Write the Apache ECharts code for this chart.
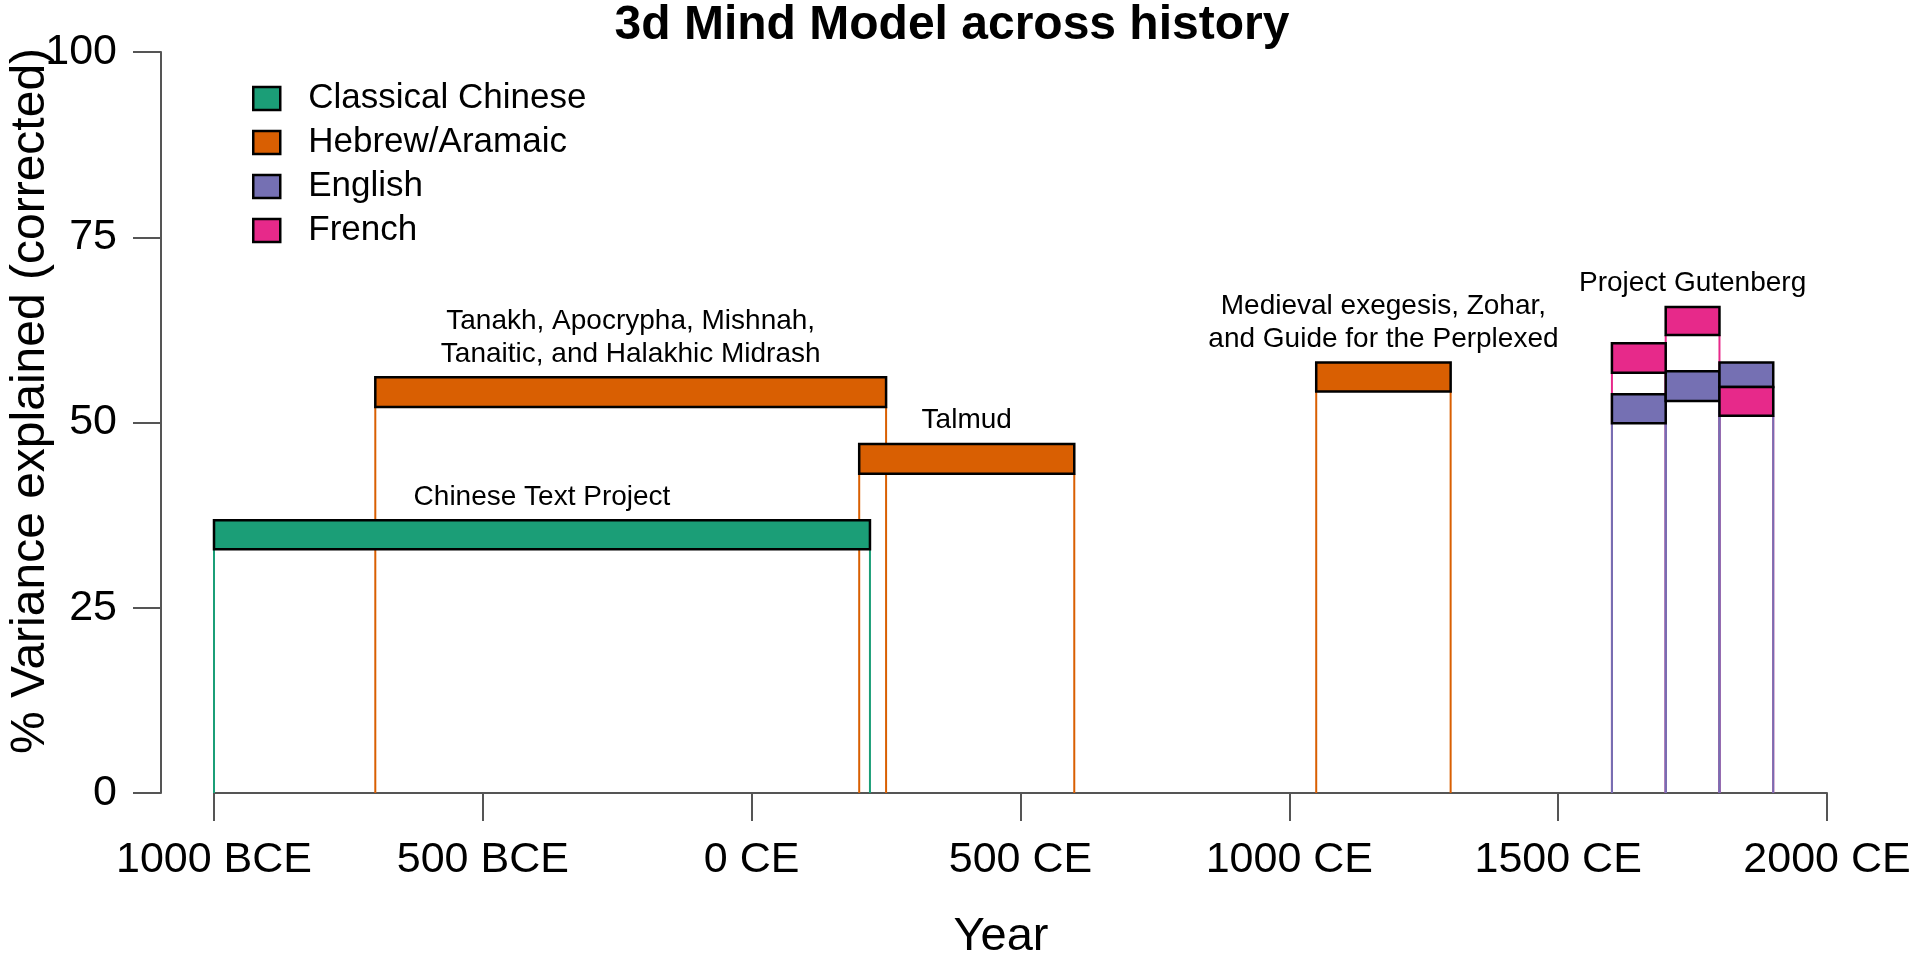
<!DOCTYPE html>
<html>
<head>
<meta charset="utf-8">
<title>3d Mind Model across history</title>
<script src="https://cdn.jsdelivr.net/npm/echarts@6/dist/echarts.min.js"></script>
<style>
  html, body { margin: 0; padding: 0; background: #fff; }
  #chart { width: 1920px; height: 957px; }
</style>
</head>
<body>
<div id="chart"></div>
<script>
const FONT = '"Liberation Sans", Arial, Helvetica, sans-serif';

const languages = ['Classical Chinese', 'Hebrew/Aramaic', 'English', 'French'];
const colors = ['#1b9e77', '#d95f02', '#7570b3', '#e7298a'];

// per language: period start / end (year) and lower / upper bound of % variance
const chineseStart = [-1000];
const chineseEnd = [220];
const chineseLower = [32.9];
const chineseUpper = [36.8];

const hebrewStart = [-700, 200, 1050];
const hebrewEnd = [250, 600, 1300];
const hebrewLower = [52.1, 43.1, 54.2];
const hebrewUpper = [56.1, 47.1, 58.1];

const englishStart = [1600, 1700, 1800];
const englishEnd = [1700, 1800, 1900];
const englishLower = [49.9, 52.9, 54.8];
const englishUpper = [53.8, 56.9, 58.1];

const frenchStart = [1600, 1700, 1800];
const frenchEnd = [1700, 1800, 1900];
const frenchLower = [56.7, 61.8, 50.9];
const frenchUpper = [60.7, 65.6, 54.8];

// corpus annotations: centre year and top of the highest box under it
const corpusNames = [
  'Chinese Text Project',
  'Tanakh, Apocrypha, Mishnah,\nTanaitic, and Halakhic Midrash',
  'Talmud',
  'Medieval exegesis, Zohar,\nand Guide for the Perplexed',
  'Project Gutenberg'
];
const corpusYear = [-390, -225, 400, 1175, 1750];
const corpusTop = [36.8, 56.1, 47.1, 58.1, 65.6];

function rows(start, end, lower, upper) {
  return start.map((s, i) => [s, end[i], lower[i], upper[i]]);
}

const byLang = {
  'Classical Chinese': rows(chineseStart, chineseEnd, chineseLower, chineseUpper),
  'Hebrew/Aramaic': rows(hebrewStart, hebrewEnd, hebrewLower, hebrewUpper),
  'English': rows(englishStart, englishEnd, englishLower, englishUpper),
  'French': rows(frenchStart, frenchEnd, frenchLower, frenchUpper)
};

// vertical lines from 0 up to the lower bound, at both ends of the period
function renderLines(params, api) {
  const base = api.coord([api.value(0), 0]);
  const a = api.coord([api.value(0), api.value(2)]);
  const b = api.coord([api.value(1), api.value(2)]);
  const style = { stroke: api.visual('color'), lineWidth: 2 };
  return {
    type: 'group',
    children: [
      { type: 'line', shape: { x1: a[0], y1: base[1], x2: a[0], y2: a[1] }, style: style },
      { type: 'line', shape: { x1: b[0], y1: base[1], x2: b[0], y2: b[1] }, style: style }
    ]
  };
}

function renderBox(params, api) {
  const tl = api.coord([api.value(0), api.value(3)]);
  const br = api.coord([api.value(1), api.value(2)]);
  return {
    type: 'rect',
    shape: { x: tl[0], y: tl[1], width: br[0] - tl[0], height: br[1] - tl[1] },
    style: { fill: api.visual('color'), stroke: '#000', lineWidth: 2.5 }
  };
}

function renderLabel(params, api) {
  const p = api.coord([api.value(0), api.value(1)]);
  return {
    type: 'text',
    x: p[0],
    y: p[1] - 7,
    style: {
      text: corpusNames[api.value(2)],
      fontSize: 28,
      fontFamily: FONT,
      fill: '#000',
      align: 'center',
      verticalAlign: 'bottom',
      lineHeight: 33
    }
  };
}

const lineOrder = ['Classical Chinese', 'Hebrew/Aramaic', 'French', 'English'];
const series = [];
lineOrder.forEach(name => {
  series.push({
    name: name,
    type: 'custom',
    z: 2,
    silent: true,
    itemStyle: { color: colors[languages.indexOf(name)] },
    encode: { x: [0, 1], y: [2, 3] },
    renderItem: renderLines,
    data: byLang[name]
  });
});
languages.forEach((name, i) => {
  series.push({
    name: name,
    type: 'custom',
    z: 3,
    silent: true,
    itemStyle: { color: colors[i] },
    encode: { x: [0, 1], y: [2, 3] },
    renderItem: renderBox,
    data: byLang[name]
  });
});
series.push({
  name: 'corpus',
  type: 'custom',
  z: 4,
  silent: true,
  encode: { x: 0, y: 1 },
  renderItem: renderLabel,
  data: corpusYear.map((y, i) => [y, corpusTop[i], i])
});

const chart = echarts.init(document.getElementById('chart'));
chart.setOption({
  animation: false,
  color: colors,
  title: {
    text: '3d Mind Model across history',
    left: 947,
    top: -3,
    textAlign: 'center',
    textStyle: { fontSize: 48, fontWeight: 'bold', fontFamily: FONT, color: '#000' }
  },
  legend: {
    data: languages,
    orient: 'vertical',
    left: 247,
    top: 76,
    icon: 'rect',
    itemWidth: 27,
    itemHeight: 23,
    itemGap: 9,
    selectedMode: false,
    itemStyle: { borderColor: '#000', borderWidth: 2.5 },
    textStyle: { fontSize: 35, lineHeight: 30, fontFamily: FONT, color: '#000', padding: [0, 0, 0, 23] }
  },
  grid: { left: 214, right: 93, top: 52, bottom: 164 },
  xAxis: {
    type: 'value',
    min: -1000,
    max: 2000,
    interval: 500,
    splitLine: { show: false },
    axisLine: { lineStyle: { color: '#555', width: 2 } },
    axisTick: { length: 28, lineStyle: { color: '#555', width: 2 } },
    axisLabel: {
      margin: 46,
      fontSize: 43,
      fontFamily: FONT,
      color: '#000',
      formatter: v => (v < 0 ? (-v) + ' BCE' : v + ' CE')
    }
  },
  yAxis: {
    type: 'value',
    min: 0,
    max: 100,
    interval: 25,
    offset: 53,
    splitLine: { show: false },
    axisLine: { show: true, onZero: false, lineStyle: { color: '#555', width: 2 } },
    axisTick: { show: true, length: 28, lineStyle: { color: '#555', width: 2 } },
    axisLabel: { margin: 44, fontSize: 43, fontFamily: FONT, color: '#000' }
  },
  graphic: [
    {
      type: 'text',
      x: 1001,
      y: 937,
      style: { text: 'Year', fontSize: 47, fontFamily: FONT, fill: '#000', align: 'center', verticalAlign: 'middle' }
    },
    {
      type: 'text',
      x: 31,
      y: 401,
      rotation: Math.PI / 2,
      style: { text: '% Variance explained (corrected)', fontSize: 48, fontFamily: FONT, fill: '#000', align: 'center', verticalAlign: 'middle' }
    }
  ],
  series: series
});
window.addEventListener('resize', () => chart.resize());
</script>
</body>
</html>
